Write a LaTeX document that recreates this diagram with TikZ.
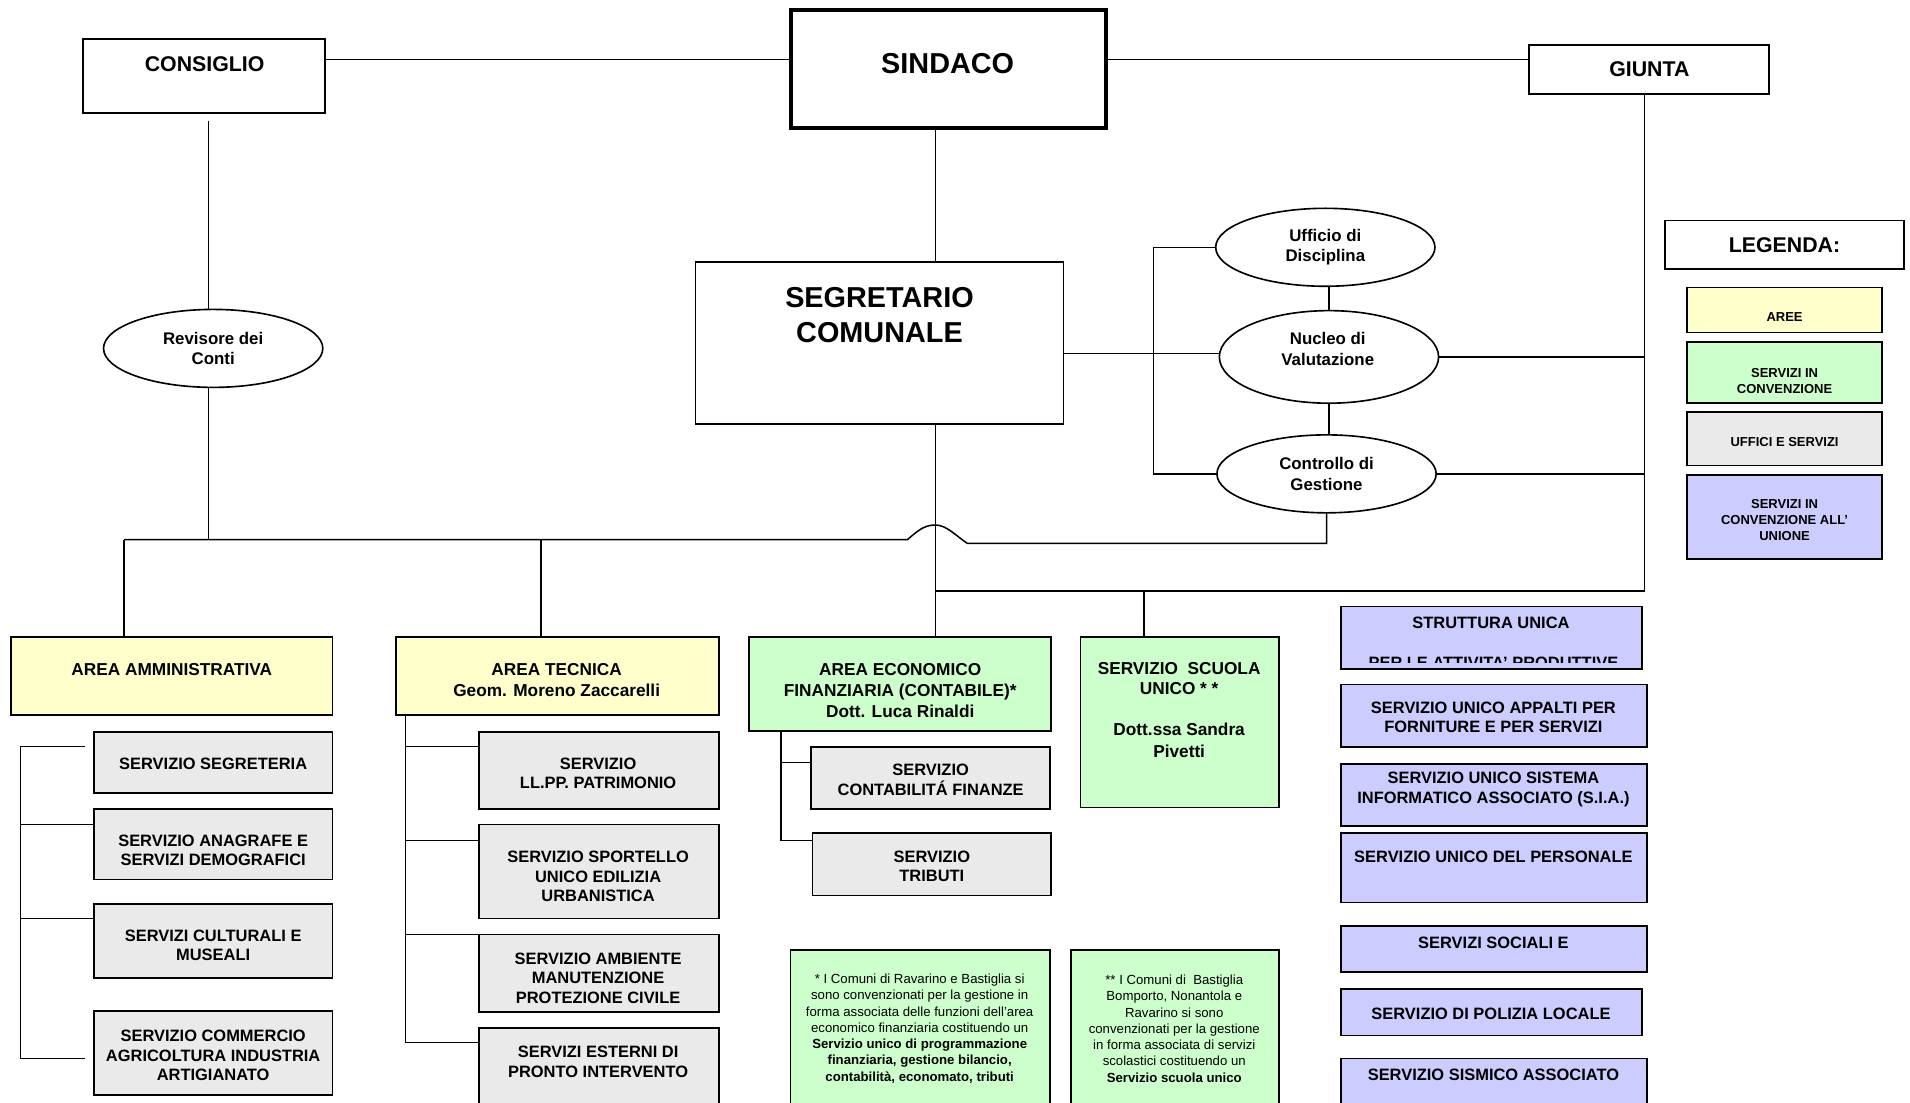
\documentclass[tikz,border=0pt]{standalone}
\usepackage{fontspec}
\setmainfont{Liberation Sans}
\usetikzlibrary{shapes.geometric}
\definecolor{ygl}{HTML}{FFFFCC}
\definecolor{grn}{HTML}{CCFFCC}
\definecolor{gry}{HTML}{EAEAEA}
\definecolor{prp}{HTML}{CCCCFF}
\newcommand\bx[6]{\node[box,#6,minimum width={(#4-#2)*0.6pt},minimum height={(#5-#3)*0.6pt}] (#1) at ({(#2+#4)/2},{(#3+#5)/2}) {};}
\newcommand\tx[5]{\node[lbl,#4] (#1) at (#2,#3) {#5};}
\newcommand\fA{\bfseries\fontsize{8.1}{9.6}\selectfont}
\newcommand\fB{\bfseries\fontsize{8.5}{10.4}\selectfont}
\newcommand\fS{\bfseries\fontsize{8.5}{9.6}\selectfont}
\newcommand\fN{\mdseries\fontsize{6.5}{8}\selectfont}
\newcommand\fL{\bfseries\fontsize{6.4}{8}\selectfont}
\newcommand\fT{\bfseries\fontsize{10.5}{12}\selectfont}
\newcommand\fH{\bfseries\fontsize{14.2}{17.4}\selectfont}
\newcommand\fE{\bfseries\fontsize{8.3}{10.2}\selectfont}
\begin{document}
\begin{tikzpicture}[x=0.6pt,y=-0.6pt,
 box/.style={draw,line width=0.8pt,inner sep=0pt,outer sep=0pt},
 lbl/.style={align=center,inner sep=0pt,font=\fA},
 ln/.style={line width=0.75pt},
 ell/.style={draw,ellipse,line width=0.8pt,inner sep=0pt,align=center,font=\fE}]
\useasboundingbox[fill=white] (0,0) rectangle (1568,905);

% top level
\bx{consiglio}{68}{32}{267}{93}{}
\bx{sindaco}{649}{8}{908}{105}{line width=2pt}
\bx{giunta}{1255}{37}{1452}{77}{}
\tx{t-consiglio}{168}{53}{font=\fT}{CONSIGLIO}
\tx{t-sindaco}{778}{52}{font=\fH}{SINDACO}
\tx{t-giunta}{1354}{57}{font=\fT}{GIUNTA}
\bx{segr}{571}{215}{873}{348}{}
\tx{t-segr}{722}{258.5}{font=\fH}{SEGRETARIO\\COMUNALE}

% ellipses
\node[ell,minimum width=108pt,minimum height=38.4pt] (revisore) at (175,286) {Revisore dei\\Conti};
\node[ell,minimum width=108pt,minimum height=38.4pt] (ufficio) at (1088,203) {Ufficio di\\Disciplina};
\node[ell,minimum width=108pt,minimum height=45.6pt] (nucleo) at (1091,293) {};
\tx{t-nucleo}{1090}{286.5}{font=\fE}{Nucleo di\\Valutazione}
\node[ell,minimum width=108pt,minimum height=38.4pt] (controllo) at (1089,389) {Controllo di\\Gestione};

% areas
\bx{amm}{9}{523}{273}{587}{fill=ygl}
\bx{tec}{325}{523}{590}{587}{fill=ygl}
\bx{econ}{615}{523}{863}{600}{fill=grn}
\bx{scuola}{887}{523}{1050}{663}{fill=grn}
\tx{t-amm}{141}{550}{font=\fB}{AREA AMMINISTRATIVA}
\tx{t-tec}{457}{558.5}{font=\fB}{AREA TECNICA\\Geom. Moreno Zaccarelli}
\tx{t-econ}{739}{567}{font=\fB}{AREA ECONOMICO\\FINANZIARIA (CONTABILE)*\\Dott. Luca Rinaldi}
\tx{t-scuola}{968}{583}{font=\fS}{SERVIZIO~~SCUOLA\\UNICO * *\\[10.8pt]Dott.ssa Sandra\\[1.2pt]Pivetti}

% services
\bx{s1}{77}{601}{273}{651}{fill=gry}
\bx{s2}{77}{664}{273}{722}{fill=gry}
\bx{s3}{77}{742}{273}{803}{fill=gry}
\bx{s4}{77}{830}{273}{899}{fill=gry}
\bx{t1}{393}{601}{590}{664}{fill=gry}
\bx{t2}{393}{677}{590}{754}{fill=gry}
\bx{t3}{393}{767}{590}{831}{fill=gry}
\bx{t4}{393}{844}{590}{915}{fill=gry}
\bx{e1}{666}{613}{862}{664}{fill=gry}
\bx{e2}{667}{684}{863}{735}{fill=gry}
\tx{t-s1}{175}{627}{}{SERVIZIO SEGRETERIA}
\tx{t-s2}{175}{698}{}{SERVIZIO ANAGRAFE E\\SERVIZI DEMOGRAFICI}
\tx{t-s3}{175}{776}{}{SERVIZI CULTURALI E\\MUSEALI}
\tx{t-s4}{175}{866.5}{}{SERVIZIO COMMERCIO\\AGRICOLTURA INDUSTRIA\\ARTIGIANATO}
\tx{t-t1}{491}{635}{}{SERVIZIO\\LL.PP. PATRIMONIO}
\tx{t-t2}{491}{719.5}{}{SERVIZIO SPORTELLO\\UNICO EDILIZIA\\URBANISTICA}
\tx{t-t3}{491}{803}{}{SERVIZIO AMBIENTE\\MANUTENZIONE\\PROTEZIONE CIVILE}
\tx{t-t4}{491}{871.5}{}{SERVIZI ESTERNI DI\\PRONTO INTERVENTO}
\tx{t-e1}{764}{640}{}{SERVIZIO\\CONTABILITÁ FINANZE}
\tx{t-e2}{765}{711}{}{SERVIZIO\\TRIBUTI}

% notes
\bx{n1}{649}{780}{862}{915}{fill=grn}
\bx{n2}{879}{780}{1050}{915}{fill=grn}
\tx{t-n1}{755}{844.5}{font=\fN}{* I Comuni di Ravarino e Bastiglia si\\sono convenzionati per la gestione in\\forma associata delle funzioni dell’area\\economico finanziaria costituendo un\\\textbf{Servizio unico di programmazione}\\\textbf{finanziaria, gestione bilancio,}\\\textbf{contabilità, economato, tributi}}
\tx{t-n2}{964}{844.5}{font=\fN}{** I Comuni di~~Bastiglia\\Bomporto, Nonantola e\\Ravarino si sono\\convenzionati per la gestione\\in forma associata di servizi\\scolastici costituendo un\\\textbf{Servizio scuola unico}}

% unione
\bx{u1}{1101}{498}{1348}{549}{fill=prp}
\bx{u2}{1101}{562}{1352}{613}{fill=prp}
\bx{u3}{1101}{627}{1352}{678}{fill=prp}
\bx{u4}{1101}{684}{1352}{741}{fill=prp}
\bx{u5}{1101}{760}{1352}{798}{fill=prp}
\bx{u6}{1101}{812}{1348}{850}{fill=prp}
\bx{u7}{1101}{869}{1352}{915}{fill=prp}
\tx{t-u1}{1224}{511}{}{STRUTTURA UNICA}
\begin{scope}
\clip (1102,500) rectangle (1347,544);
\tx{t-u1b}{1226}{544}{}{PER LE ATTIVITA’ PRODUTTIVE}
\end{scope}
\tx{t-u2}{1226}{589}{}{SERVIZIO UNICO APPALTI PER\\FORNITURE E PER SERVIZI}
\tx{t-u3}{1226}{648}{}{SERVIZIO UNICO SISTEMA\\INFORMATICO ASSOCIATO (S.I.A.)}
\tx{t-u4}{1226}{703}{}{SERVIZIO UNICO DEL PERSONALE}
\tx{t-u5}{1226}{774}{}{SERVIZI SOCIALI E}
\tx{t-u6}{1224}{832}{}{SERVIZIO DI POLIZIA LOCALE}
\tx{t-u7}{1226}{882}{}{SERVIZIO SISMICO ASSOCIATO}

% legend
\bx{leg}{1367}{181}{1563}{221}{}
\bx{l1}{1385}{236}{1545}{273}{fill=ygl}
\bx{l2}{1385}{281}{1545}{331}{fill=grn}
\bx{l3}{1385}{338}{1545}{382}{fill=gry}
\bx{l4}{1385}{390}{1545}{459}{fill=prp}
\tx{t-leg}{1465}{201}{font=\fT}{LEGENDA:}
\tx{t-l1}{1465}{260}{font=\fL}{AREE}
\tx{t-l2}{1465}{312.5}{font=\fL}{SERVIZI IN\\CONVENZIONE}
\tx{t-l3}{1465}{363}{font=\fL}{UFFICI E SERVIZI}
\tx{t-l4}{1465}{427}{font=\fL}{SERVIZI IN\\CONVENZIONE ALL’\\UNIONE}

% connectors
\coordinate (j) at (0,49);
\draw[ln] (consiglio.east |- j) -- (sindaco.west |- j);
\draw[ln] (sindaco.east |- j) -- (giunta.west |- j);
\coordinate (cv) at (171,99);
\draw[ln] (cv) -- (cv |- revisore.north);
\coordinate (bL) at (102,443);
\coordinate (b2) at (0,446);
\draw[ln] (revisore.south -| cv) -- (cv |- bL);
\draw[ln] (bL) -- (745,443) .. controls (755,434) and (760,431) .. (768,431) .. controls (777,431) and (785,440) .. (794,446) -- (controllo.south |- b2) -- (controllo.south);
\draw[ln] (bL) -- (bL |- amm.north);
\coordinate (bT) at (444,443);
\draw[ln] (bT) -- (bT |- tec.north);
\coordinate (v) at (768,0);
\draw[ln] (v |- sindaco.south) -- (v |- segr.north);
\draw[ln] (v |- segr.south) -- (v |- econ.north);
\coordinate (h) at (768,485);
\coordinate (gv) at (1350,485);
\draw[ln] (gv |- giunta.south) -- (gv) -- (h);
\coordinate (sv) at (939,485);
\draw[ln] (sv) -- (sv |- scuola.north);
\draw[ln] (segr.east |- 0,290) -- (nucleo.west |- 0,290);
\coordinate (bk) at (947,0);
\draw[ln] (ufficio.west) -- (bk |- ufficio.west) -- (bk |- controllo.west) -- (controllo.west);
\draw[ln] (nucleo.north |- ufficio.south) -- (nucleo.north);
\draw[ln] (nucleo.south) -- (nucleo.south |- controllo.north);
\draw[ln] (nucleo.east) -- (nucleo.east -| gv);
\draw[ln] (controllo.east) -- (controllo.east -| gv);

\draw[ln] (70,613) -- (17,613) -- (17,869) -- (70,869);
\draw[ln] (17,677) -- (s2.west |- 0,677);
\draw[ln] (17,754) -- (s3.west |- 0,754);
\draw[ln] (tec.south -| 333,0) -- (333,856) -- (t4.west |- 0,856);
\draw[ln] (333,613) -- (t1.west |- 0,613);
\draw[ln] (333,690) -- (t2.west |- 0,690);
\draw[ln] (333,767) -- (t3.west |- 0,767);
\draw[ln] (econ.south -| 641,0) -- (641,690) -- (e2.west |- 0,690);
\draw[ln] (641,626) -- (e1.west |- 0,626);
\end{tikzpicture}
\end{document}
